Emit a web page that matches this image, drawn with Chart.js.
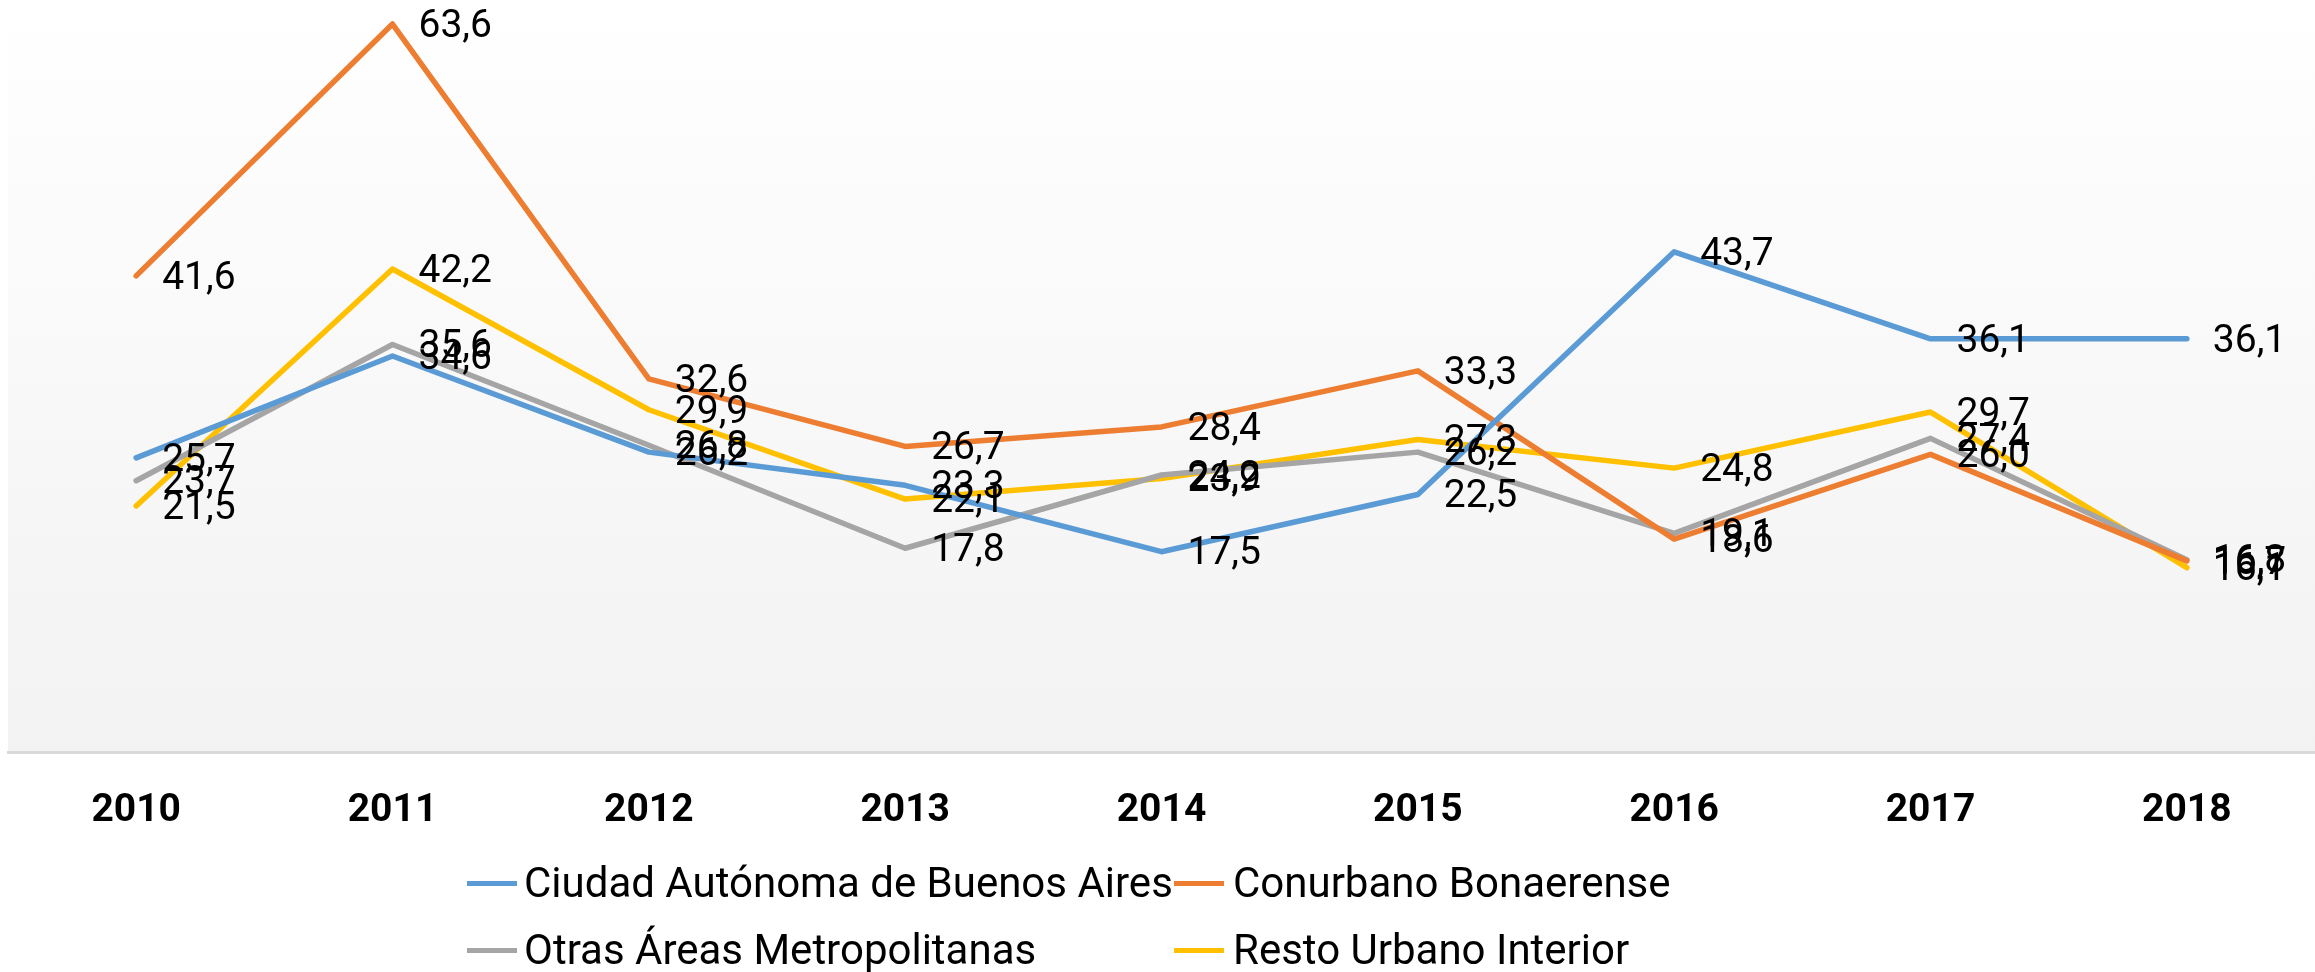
<!DOCTYPE html>
<html>
<head>
<meta charset="utf-8">
<script src="https://cdn.jsdelivr.net/npm/chart.js@4.4.1/dist/chart.umd.min.js"></script>
<style>
  html, body { margin: 0; padding: 0; background: #ffffff; overflow: hidden; }
  #wrap { position: relative; width: 2315px; height: 972px; }
  #c { position: absolute; left: 0; top: 0; }
  .lg-item { position: absolute; height: 50px; line-height: 50px; font-family: Roboto, "Noto Sans", sans-serif; font-size: 42px; color: #000; white-space: nowrap; }
  .lg-mark { position: absolute; height: 5px; width: 50px; }
</style>
</head>
<body>
<div id="wrap">
  <canvas id="c" width="2315" height="972"></canvas>
  <div id="legend"></div>
</div>
<script>
const categories = ["2010", "2011", "2012", "2013", "2014", "2015", "2016", "2017", "2018"];
const seriesNames = ["Ciudad Autónoma de Buenos Aires", "Conurbano Bonaerense", "Otras Áreas Metropolitanas", "Resto Urbano Interior"];
const caba      = [25.7, 34.6, 26.2, 23.3, 17.5, 22.5, 43.7, 36.1, 36.1];
const conurbano = [41.6, 63.6, 32.6, 26.7, 28.4, 33.3, 18.6, 26.0, 16.7];
const otras     = [23.7, 35.6, 26.8, 17.8, 24.2, 26.2, 19.1, 27.4, 16.8];
const resto     = [21.5, 42.2, 29.9, 22.1, 23.9, 27.3, 24.8, 29.7, 16.1];
const colors = ["#5B9BD5", "#ED7D31", "#A5A5A5", "#FFC000"];
const seriesValues = [caba, conurbano, otras, resto];

const bgPlugin = {
  id: 'bgGradient',
  beforeDraw(chart) {
    const {ctx, chartArea} = chart;
    const g = ctx.createLinearGradient(0, chartArea.top, 0, chartArea.bottom);
    g.addColorStop(0, '#ffffff');
    g.addColorStop(1, '#f2f2f2');
    ctx.save();
    ctx.fillStyle = g;
    ctx.fillRect(chartArea.left, chartArea.top, chartArea.right - chartArea.left, chartArea.bottom - chartArea.top);
    ctx.restore();
  }
};

const labelPlugin = {
  id: 'valueLabels',
  afterDatasetsDraw(chart) {
    const {ctx} = chart;
    ctx.save();
    ctx.font = '39px Roboto, "Noto Sans", sans-serif';
    ctx.fillStyle = '#000';
    ctx.textAlign = 'left';
    ctx.textBaseline = 'middle';
    chart.data.datasets.forEach((ds, i) => {
      const meta = chart.getDatasetMeta(i);
      meta.data.forEach((pt, j) => {
        const v = ds.data[j];
        ctx.fillText(v.toFixed(1).replace('.', ','), pt.x + 26, pt.y + 3);
      });
    });
    ctx.restore();
  }
};

const chart = new Chart(document.getElementById('c'), {
  type: 'line',
  data: {
    labels: categories,
    datasets: seriesNames.map((n, i) => ({
      label: n,
      data: seriesValues[i],
      borderColor: colors[i],
      backgroundColor: colors[i],
      borderWidth: 5.5,
      borderCapStyle: 'round',
      borderJoinStyle: 'round',
      pointRadius: 0,
      tension: 0,
      fill: false
    }))
  },
  options: {
    responsive: false,
    animation: false,
    devicePixelRatio: 1,
    layout: { padding: { left: 8, right: 0, top: 0, bottom: 0 } },
    plugins: { legend: { display: false }, tooltip: { enabled: false } },
    scales: {
      x: {
        type: 'category',
        offset: true,
        grid: { display: false, drawTicks: false },
        border: { display: true, color: '#d9d9d9', width: 3 },
        ticks: {
          color: '#000',
          padding: 36,
          font: { family: 'Roboto, "Noto Sans", sans-serif', size: 39, weight: 'bold' },
          maxRotation: 0,
          autoSkip: false
        },
        afterFit(scale) { scale.height = 220; }
      },
      y: {
        display: false,
        min: 0,
        max: 65.7
      }
    }
  },
  plugins: [bgPlugin, labelPlugin]
});

// Legend laid out in two aligned columns, as in the reference
const legendPos = [
  {mx: 467, tx: 524, cy: 883},
  {mx: 1174, tx: 1233, cy: 883},
  {mx: 467, tx: 524, cy: 950},
  {mx: 1174, tx: 1233, cy: 950}
];
const legend = document.getElementById('legend');
seriesNames.forEach((n, i) => {
  const p = legendPos[i];
  const m = document.createElement('div');
  m.className = 'lg-mark';
  m.style.left = p.mx + 'px';
  m.style.top = (p.cy - 2.5) + 'px';
  m.style.background = colors[i];
  legend.appendChild(m);
  const t = document.createElement('div');
  t.className = 'lg-item';
  t.style.left = p.tx + 'px';
  t.style.top = (p.cy - 25) + 'px';
  t.textContent = n;
  legend.appendChild(t);
});
</script>
</body>
</html>
